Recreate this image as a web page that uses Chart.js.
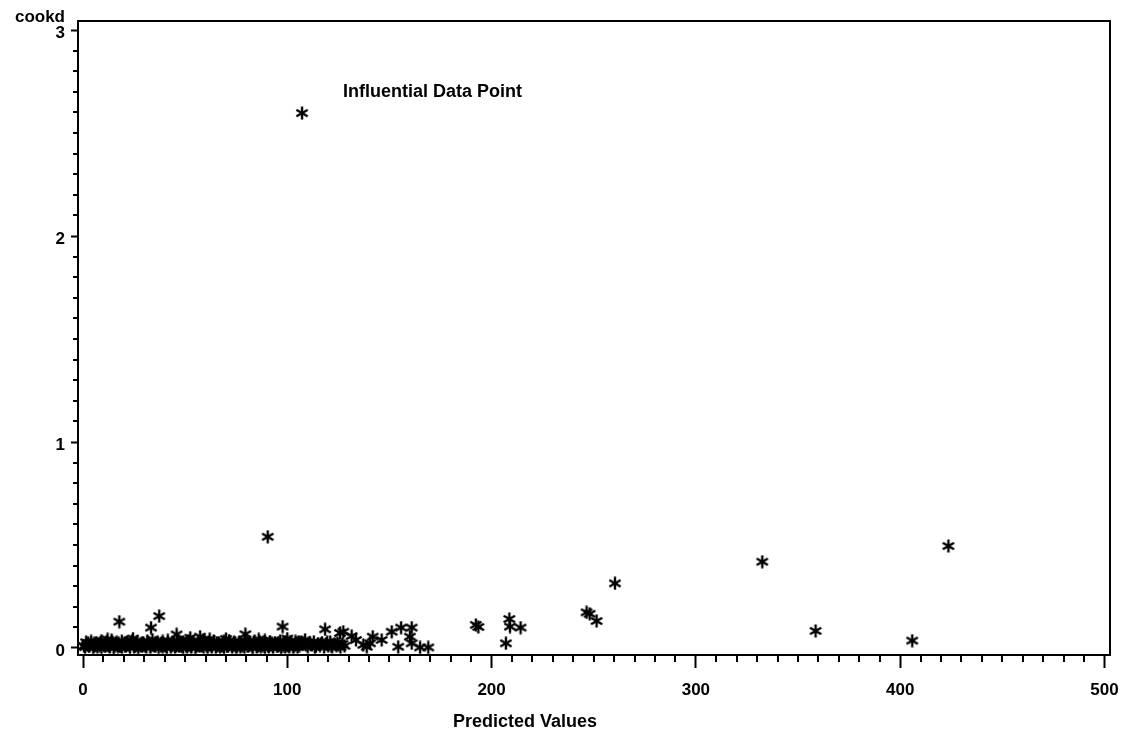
<!DOCTYPE html>
<html>
<head>
<meta charset="utf-8">
<script src="https://cdn.jsdelivr.net/npm/chart.js@4.4.1/dist/chart.umd.min.js"></script>
<style>
  html, body { margin: 0; padding: 0; background: #fff; }
  #wrap { width: 1124px; height: 734px; }
</style>
</head>
<body>
<div id="wrap"><canvas id="grafico" width="1124" height="734"></canvas></div>
<script>
// Datos: [valor predicho, cookd]
const bandaBaja = [
  [1,.004],[3,.008],[5,.002],[7,.006],[9,.003],[11,.009],[13,.005],[15,.001],[17,.007],[19,.004],
  [21,.010],[23,.003],[25,.006],[27,.002],[29,.008],[31,.005],[33,.004],[35,.009],[37,.003],[39,.006],
  [41,.002],[43,.007],[45,.005],[47,.008],[49,.003],[51,.006],[53,.004],[55,.002],[57,.009],[59,.005],
  [61,.003],[63,.007],[65,.004],[67,.006],[69,.002],[71,.008],[73,.005],[75,.003],[77,.006],[79,.004],
  [81,.009],[83,.002],[85,.005],[87,.007],[89,.003],[91,.006],[93,.004],[95,.008],[97,.002],[99,.005],
  [101,.006],[103,.003],[105,.004]
];
const bandaBaja2 = [
  [0.5,.010],[3,.011],[5.5,.009],[8,.012],[10.5,.010],[13,.008],[15.5,.011],[18,.009],[20.5,.012],[23,.010],
  [25.5,.008],[28,.011],[30.5,.009],[33,.012],[35.5,.010],[38,.011],[40.5,.008],[43,.012],[45.5,.010],[48,.009],
  [50.5,.011],[53,.012],[55.5,.008],[58,.010],[60.5,.011],[63,.009],[65.5,.012],[68,.010],[70.5,.008],[73,.011],
  [75.5,.009],[78,.012],[80.5,.010],[83,.011],[85.5,.008],[88,.012],[90.5,.010],[93,.009],[95.5,.011],[98,.012],
  [100.5,.010],[103,.009]
];
const bandaMedia = [
  [2,.015],[4,.018],[6,.013],[8,.020],[10,.016],[12,.014],[14,.021],[16,.017],[18,.012],[20,.019],
  [22,.015],[24,.022],[26,.013],[28,.018],[30,.016],[32,.020],[34,.014],[36,.017],[38,.021],[40,.013],
  [42,.019],[44,.016],[46,.015],[48,.022],[50,.018],[52,.014],[54,.020],[56,.013],[58,.017],[60,.019],
  [62,.015],[64,.021],[66,.016],[68,.014],[70,.018],[72,.020],[74,.013],[76,.017],[78,.015],[80,.022],
  [82,.016],[84,.019],[86,.014],[88,.018],[90,.021],[92,.015],[94,.017],[96,.013],[98,.020],[100,.016],
  [102,.018],[104,.014]
];
const bandaMedia2 = [
  [2.5,.024],[5.5,.022],[8.5,.026],[11.5,.023],[14.5,.025],[17.5,.022],[20.5,.026],[23.5,.024],[26.5,.023],
  [29.5,.025],[32.5,.022],[35.5,.026],[38.5,.024],[41.5,.023],[44.5,.025],[47.5,.022],[50.5,.026],[53.5,.024],
  [56.5,.023],[59.5,.025],[62.5,.022],[65.5,.026],[68.5,.024],[71.5,.023],[74.5,.025],[77.5,.022],[80.5,.026],
  [83.5,.024],[86.5,.023],[89.5,.025],[92.5,.022],[95.5,.026],[98.5,.024],[101.5,.023],[104.5,.025]
];
const bandaAlta = [
  [1.5,.028],[4,.032],[6.5,.026],[9,.035],[11.5,.030],[14,.038],[16.5,.027],[19,.033],[21.5,.029],[24,.036],
  [26.5,.031],[29,.025],[31.5,.034],[34,.040],[36.5,.028],[39,.032],[41.5,.037],[44,.026],[46.5,.033],[49,.030],
  [51.5,.035],[54,.027],[56.5,.031],[59,.038],[61.5,.029],[64,.034],[66.5,.026],[69,.032],[71.5,.036],[74,.028],
  [76.5,.030],[79,.035],[81.5,.027],[84,.033],[86.5,.029],[89,.037],[91.5,.031],[94,.026],[96.5,.034],[99,.030],
  [101.5,.028],[104,.032],
  [12,.042],[24.5,.046],[52.5,.050],[62,.043],[70,.044],[86,.042],[100,.046]
];
const grupo = [
  [106,.012],[108,.022],[110,.006],[112,.016],[113,.030],[114,.008],[115,.021],[116,.012],[117,.026],
  [118,.005],[119,.018],[120,.010],[121,.030],[122,.007],[123,.020],[124,.012],[125,.016],[126,.005],[128,.010],
  [105.5,.030],[107,.028],[109,.015],[111,.025],[113.5,.004],[116.5,.020],[119.5,.028],[121.5,.012],
  [124.5,.025],[127,.020]
];
const aislados = [
  [17.8,.128],[37.3,.155],[33.3,.099],[45.8,.066],[57.3,.055],[79.5,.067],[97.7,.104],[90.4,.540],
  [107.2,2.597],[108.7,.040],[118.5,.091],[125.8,.073],[127.4,.079],[131.5,.058],[133.6,.039],[137.2,.015],
  [138.9,.006],[140.5,.023],[141.8,.055],[146.2,.039],[151.1,.079],[154.3,.006],[155.7,.099],[160,.055],
  [160.9,.099],[160.9,.023],[165,.003],[169,.003],[192.3,.112],[193.5,.102],[208.7,.141],[209,.104],
  [214.2,.099],[207,.023],[246.5,.173],[248,.166],[251.4,.131],[260.4,.314],[332.5,.419],[358.6,.083],
  [405.9,.036],[423.6,.495]
];

const ticksX = [0, 100, 200, 300, 400, 500];
const ticksY = [0, 1, 2, 3];
const tituloX = 'Predicted Values';
const tituloY = 'cookd';
const nota = 'Influential Data Point';
const notaPos = [127.3, 2.70];

const fuente = "'Liberation Sans', Arial, sans-serif";

// Asterisco de 6 brazos como estilo de punto
function crearAsterisco(){
    const c = document.createElement('canvas');
    c.width = 14; c.height = 14;
    const g = c.getContext('2d');
    g.strokeStyle = '#000';
    g.lineWidth = 2.4;
    g.lineCap = 'butt';
    [90, 30, 150].forEach(a => {
        const r = a * Math.PI / 180;
        g.beginPath();
        g.moveTo(7 + Math.cos(r) * 6.5, 7 - Math.sin(r) * 6.5);
        g.lineTo(7 - Math.cos(r) * 6.5, 7 + Math.sin(r) * 6.5);
        g.stroke();
    });
    return c;
}
const asterisco = crearAsterisco();

const puntos = [].concat(bandaBaja, bandaBaja2, bandaMedia, bandaMedia2, bandaAlta, grupo, aislados)
    .map(p => ({ x: p[0], y: p[1] }));

// Marco, marcas menores y textos
const extras = {
    id: 'extras',
    beforeDraw(chart){
        const ctx = chart.ctx;
        ctx.save();
        ctx.fillStyle = '#fff';
        ctx.fillRect(0, 0, chart.width, chart.height);
        ctx.restore();
    },
    afterDraw(chart){
        const ctx = chart.ctx;
        const a = chart.chartArea;
        const sx = chart.scales.x, sy = chart.scales.y;
        ctx.save();
        ctx.strokeStyle = '#000';
        ctx.lineWidth = 2;
        ctx.strokeRect(a.left, a.top, a.right - a.left, a.bottom - a.top);

        // marcas menores
        ctx.beginPath();
        for (let v = 10; v < 500; v += 10){
            if (v % 100 === 0) continue;
            const px = Math.round(sx.getPixelForValue(v));
            ctx.moveTo(px, a.bottom);
            ctx.lineTo(px, a.bottom + 7);
        }
        for (let k = 1; k < 30; k++){
            if (k % 10 === 0) continue;
            const py = Math.round(sy.getPixelForValue(k / 10));
            ctx.moveTo(a.left, py);
            ctx.lineTo(a.left - 5, py);
        }
        ctx.stroke();

        ctx.fillStyle = '#000';
        ctx.font = "bold 18px " + fuente;
        ctx.textBaseline = 'middle';
        ctx.textAlign = 'center';
        ctx.fillText(tituloX, 525, 722);

        ctx.font = "bold 17px " + fuente;
        ctx.textAlign = 'right';
        ctx.fillText(tituloY, 65, 17);

        ctx.font = "bold 18px " + fuente;
        ctx.textAlign = 'left';
        ctx.fillText(nota, sx.getPixelForValue(notaPos[0]), sy.getPixelForValue(notaPos[1]));
        ctx.restore();
    }
};

new Chart(document.getElementById('grafico'), {
    type: 'scatter',
    data: {
        datasets: [{
            label: 'cookd',
            data: puntos,
            pointStyle: asterisco,
            pointRadius: 7,
            pointHoverRadius: 7,
            borderColor: '#000',
            backgroundColor: '#000'
        }]
    },
    options: {
        responsive: false,
        animation: false,
        devicePixelRatio: 1,
        layout: { padding: { top: 21, right: 14, left: 0, bottom: 0 } },
        plugins: {
            legend: { display: false },
            tooltip: { enabled: false }
        },
        scales: {
            x: {
                type: 'linear',
                min: -2.45,
                max: 502.7,
                afterBuildTicks: s => { s.ticks = ticksX.map(v => ({ value: v })); },
                afterFit: s => { s.height = 79; s.paddingLeft = 0; s.paddingRight = 0; },
                grid: { drawOnChartArea: false, drawTicks: true, tickLength: 13, tickWidth: 2, tickColor: '#000' },
                border: { display: false },
                ticks: {
                    color: '#000',
                    font: { family: fuente, size: 17, weight: 'bold' },
                    padding: 12,
                    maxRotation: 0,
                    autoSkip: false
                }
            },
            y: {
                type: 'linear',
                min: -0.034,
                max: 3.044,
                afterBuildTicks: s => { s.ticks = ticksY.map(v => ({ value: v })); },
                afterFit: s => { s.width = 78; s.paddingTop = 0; s.paddingBottom = 0; },
                grid: { drawOnChartArea: false, drawTicks: true, tickLength: 7, tickWidth: 2, tickColor: '#000' },
                border: { display: false },
                ticks: {
                    color: '#000',
                    font: { family: fuente, size: 17, weight: 'bold' },
                    padding: 6,
                    labelOffset: 3,
                    autoSkip: false
                }
            }
        }
    },
    plugins: [extras]
});
</script>
</body>
</html>
